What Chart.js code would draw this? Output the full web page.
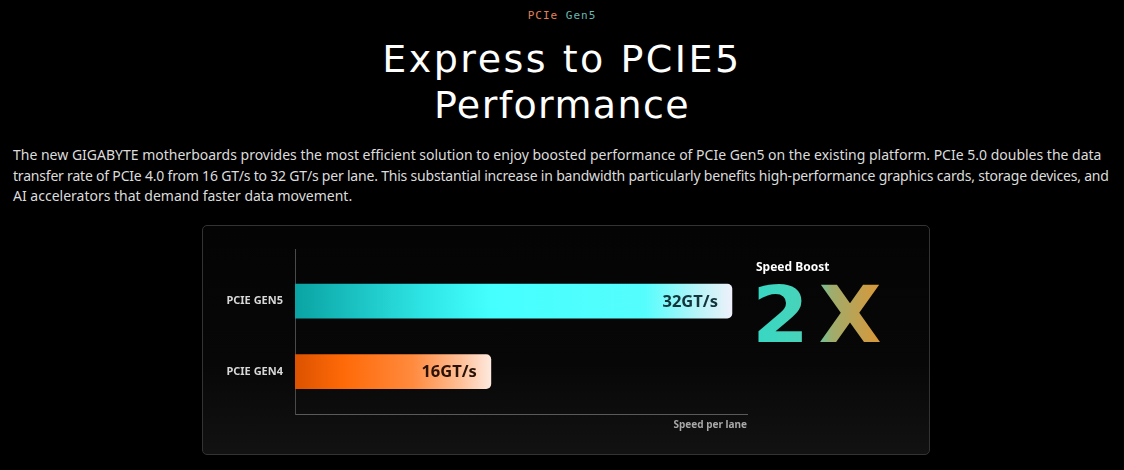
<!DOCTYPE html>
<html>
<head>
<meta charset="utf-8">
<script src="https://cdn.jsdelivr.net/npm/chart.js@4.4.1/dist/chart.umd.min.js"></script>
<style>
  html, body { margin: 0; padding: 0; background: #000; width: 1124px; height: 470px; overflow: hidden; }
  body { position: relative; font-family: "Noto Sans", "Open Sans", sans-serif; }
  .tag { position: absolute; top: 9px; left: 0; width: 1124px; text-align: center; font-size: 11px; line-height: 14px; letter-spacing: 1px; font-family: "DejaVu Sans Mono", monospace; }
  .tag .a { color: #e0805a; }
  .tag .b { color: #6ab8ae; }
  .title { position: absolute; top: 36px; left: 0; width: 1124px; text-align: center; color: #fff; font-family: "DejaVu Sans", sans-serif; font-size: 38px; line-height: 46px; }
  .title .l1 { letter-spacing: 2.5px; }
  .title .l2 { letter-spacing: 1.4px; }
  .desc { position: absolute; top: 145px; left: 13px; color: #dcdcdc; font-size: 14px; line-height: 20.5px; white-space: nowrap; }
  .desc .tight { letter-spacing: -0.2px; }
  .panel { position: absolute; left: 202px; top: 225px; width: 728px; height: 230px; box-sizing: border-box; border: 1px solid #333; border-radius: 5px; background: linear-gradient(180deg, #040404 0%, #070707 60%, #121212 100%); }
  .chartBox { position: absolute; left: 202px; top: 225px; width: 728px; height: 230px; }
  .boost { position: absolute; left: 756px; top: 259px; color: #fff; font-weight: bold; font-size: 12px; line-height: 16px; }
  .two { position: absolute; left: 752px; top: 270px; font-family: "DejaVu Sans", sans-serif; font-weight: bold; font-size: 78px; line-height: 90px; letter-spacing: 9px;
         transform: scaleX(1.05); transform-origin: left top;
         background: linear-gradient(90deg, #35d8c4 0%, #4cd2b8 42%, #a0ac6c 58%, #e8922c 100%); -webkit-background-clip: text; background-clip: text; color: transparent; }
</style>
</head>
<body>
<div class="tag"><span class="a">PCIe</span> <span class="b">Gen5</span></div>
<div class="title"><span class="l1">Express to PCIE5</span><br><span class="l2">Performance</span></div>
<div class="desc">The new GIGABYTE motherboards provides the most efficient solution to enjoy boosted performance of PCIe Gen5 on the existing platform. PCIe 5.0 doubles the data<br><span class="tight">transfer rate of PCIe 4.0 from 16 GT/s to 32 GT/s per lane. This substantial increase in bandwidth particularly benefits high-performance graphics cards, storage devices, and</span><br>AI accelerators that demand faster data movement.</div>
<div class="panel"></div>
<div class="chartBox"><canvas id="speedChart"></canvas></div>
<div class="boost">Speed Boost</div>
<div class="two">2X</div>

<script>
// Datos del gráfico
const categories = ['PCIE GEN5', 'PCIE GEN4'];
const speeds = [32, 16];
const speedLabels = ['32GT/s', '16GT/s'];

// Colores de las barras (degradados)
const barStops = [
    [[0, '#0aa3a3'], [0.3, '#2fe6e6'], [0.45, '#45ffff'], [0.8, '#55fdfd'], [0.92, '#b6f4f8'], [1, '#eef0fa']],
    [[0, '#dc5200'], [0.25, '#ff6a08'], [0.6, '#ff8a3e'], [0.85, '#ffc098'], [1, '#fde9de']]
];
const labelColors = ['#12343a', '#2a1306'];

function barFill(context) {
    const chart = context.chart;
    const area = chart.chartArea;
    if (!area) {
        return barStops[context.dataIndex][0][1];
    }
    const xScale = chart.scales.x;
    const end = xScale.getPixelForValue(speeds[context.dataIndex]);
    const g = chart.ctx.createLinearGradient(area.left, 0, end, 0);
    barStops[context.dataIndex].forEach(s => g.addColorStop(s[0], s[1]));
    return g;
}

// Texto dentro de cada barra
const valueLabels = {
    id: 'valueLabels',
    afterDatasetsDraw(chart) {
        const meta = chart.getDatasetMeta(0);
        const c = chart.ctx;
        c.save();
        c.font = 'bold 16.5px "Noto Sans"';
        c.textAlign = 'right';
        c.textBaseline = 'middle';
        meta.data.forEach((bar, i) => {
            c.fillStyle = labelColors[i];
            c.fillText(speedLabels[i], bar.x - 14, bar.y + 1);
        });
        c.restore();
    }
};

const ctx = document.getElementById('speedChart').getContext('2d');
new Chart(ctx, {
    type: 'bar',
    data: {
        datasets: [{
            data: speeds.map((v, i) => ({ x: v, y: i })),
            backgroundColor: barFill,
            borderWidth: 0,
            borderRadius: 5,
            borderSkipped: 'start',
            barThickness: 34
        }]
    },
    options: {
        indexAxis: 'y',
        responsive: true,
        maintainAspectRatio: false,
        animation: false,
        layout: { padding: { top: 24, right: 183, bottom: 0, left: 0 } },
        plugins: { legend: { display: false }, tooltip: { enabled: false } },
        scales: {
            x: {
                type: 'linear',
                min: 3,
                max: 33,
                grid: { display: false, drawTicks: false },
                border: { display: true, color: '#5a5a5a', width: 1 },
                ticks: { display: false },
                title: {
                    display: true,
                    text: 'Speed per lane',
                    align: 'end',
                    color: '#a8a8a8',
                    font: { family: 'Noto Sans', size: 10, weight: 'bold' },
                    padding: { top: 0, bottom: 24 }
                },
                afterFit(scale) { scale.height = 41; }
            },
            y: {
                type: 'linear',
                reverse: true,
                offset: false,
                min: -0.74,
                max: 1.6,
                grid: { display: false, drawTicks: false },
                border: { display: true, color: '#4a4a4a', width: 1 },
                afterBuildTicks(scale) {
                    scale.ticks = categories.map((c, i) => ({ value: i }));
                },
                ticks: {
                    color: '#d8d8d8',
                    padding: 12,
                    font: { family: 'Noto Sans', size: 11, weight: 'bold' },
                    callback: (v) => categories[v]
                },
                afterFit(scale) { scale.width = 93; }
            }
        }
    },
    plugins: [valueLabels]
});
</script>
</body>
</html>
